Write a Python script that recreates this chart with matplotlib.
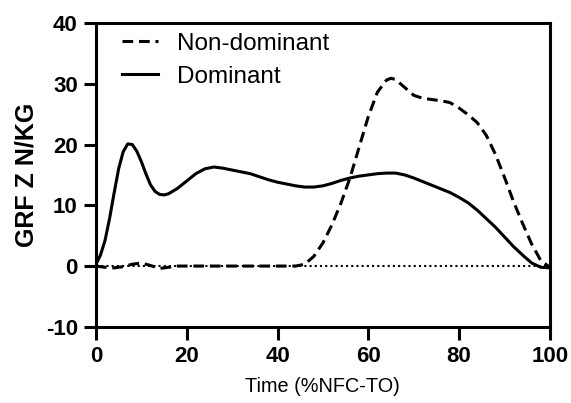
import numpy as np
import matplotlib
matplotlib.use("Agg")
import matplotlib.pyplot as plt

plt.rcParams["font.family"] = ["Liberation Sans", "DejaVu Sans"]
plt.rcParams["axes.unicode_minus"] = False

# time axis (% NFC-TO)
time_dom = [0, 1, 2, 3, 4, 5, 6, 7, 8, 9, 10, 11, 12, 13, 14, 15, 16,
            18, 20, 22, 24, 26, 28, 30, 32, 34, 36, 38, 40, 42, 44, 46, 48,
            50, 52, 54, 56, 58, 60, 62, 64, 66, 68, 70, 72, 74, 76, 78, 80,
            82, 84, 86, 88, 90, 92, 94, 96, 98, 100]
dominant = [0.3, 1.8, 4.2, 7.8, 12.0, 16.0, 18.8, 20.1, 20.0, 18.9, 17.2,
            15.2, 13.4, 12.3, 11.8, 11.7, 11.9,
            12.8, 14.0, 15.2, 16.0, 16.3, 16.1, 15.8, 15.5, 15.2, 14.7, 14.2,
            13.8, 13.5, 13.2, 13.0, 13.0, 13.2, 13.6, 14.1, 14.5, 14.8, 15.0,
            15.2, 15.3, 15.3, 15.0, 14.5, 13.9, 13.3, 12.7, 12.1, 11.3, 10.4,
            9.2, 7.8, 6.4, 4.8, 3.2, 1.8, 0.5, -0.2, -0.3]

time_nd = [0, 2, 4, 6, 8, 10, 12, 14, 16, 18, 20, 24, 28, 32, 36, 40, 44,
           46, 48, 50, 52, 54, 56, 58, 60, 62, 64, 65, 66, 68, 70, 72, 74,
           76, 78, 80, 82, 84, 86, 88, 90, 92, 94, 96, 98, 100]
non_dominant = [0.0, -0.2, -0.3, -0.1, 0.3, 0.5, 0.1, -0.4, -0.2, 0.0, 0.0,
                0.0, 0.0, 0.0, 0.0, 0.0, 0.0,
                0.3, 1.6, 3.8, 6.8, 10.4, 14.6, 19.6, 24.6, 28.6, 30.6, 30.9,
                30.7, 29.4, 28.1, 27.6, 27.4, 27.2, 26.9, 26.0, 24.9, 23.6,
                21.5, 18.4, 14.6, 10.6, 7.0, 3.6, 0.9, -0.2]

fig = plt.figure(figsize=(5.71, 4.03), dpi=100)
ax = fig.add_axes([0.168, 0.189, 0.795, 0.754])

ax.plot([0, 100], [0, 0], color="black", lw=1.5, linestyle=(0, (1, 1.5)))
ax.plot(time_nd, non_dominant, color="black", lw=2.2,
        linestyle=(0, (3.5, 1.9)), label="Non-dominant")
ax.plot(time_dom, dominant, color="black", lw=2.2, label="Dominant")

ax.set_xlim(0, 100)
ax.set_ylim(-10, 40)
ax.set_xticks([0, 20, 40, 60, 80, 100])
ax.set_yticks([-10, 0, 10, 20, 30, 40])

for s in ax.spines.values():
    s.set_linewidth(2.2)
ax.tick_params(direction="out", length=9, width=2.2, labelsize=16, pad=4)
ax.tick_params(axis="x", pad=5)
for lab in ax.get_xticklabels() + ax.get_yticklabels():
    lab.set_fontweight("bold")

ax.set_xlabel("Time (%NFC-TO)", fontsize=14.3, labelpad=7)
ax.set_ylabel("GRF Z N/KG", fontsize=18, fontweight="bold", labelpad=5)

ax.legend(loc="upper left", frameon=False, fontsize=17.5, handlelength=1.5,
          handletextpad=0.8, borderaxespad=0.0, labelspacing=0.45,
          bbox_to_anchor=(0.035, 1.0))

fig.savefig("out.png", dpi=100)
